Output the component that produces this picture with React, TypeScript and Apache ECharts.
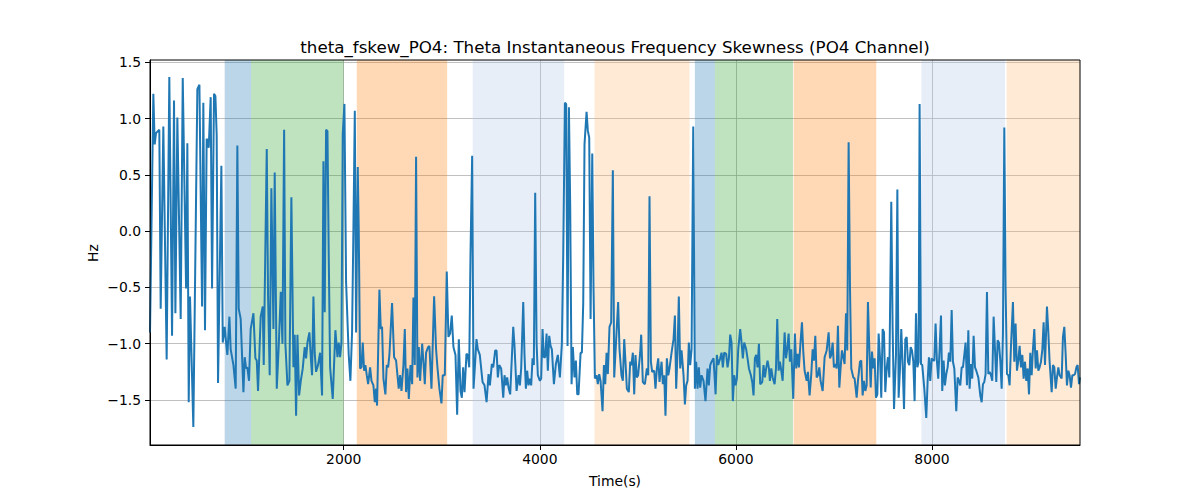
import React, { useEffect, useRef } from 'react';
import * as echarts from 'echarts';

const timeS = [
  24, 58, 72, 85, 119, 133, 160, 194, 221, 249, 269, 283, 303, 337, 358, 392, 405, 419, 432, 466,
  507, 528, 555, 568, 585, 602, 616, 623, 643, 657, 677, 691, 704, 718, 752, 766, 786, 800, 813, 834,
  847, 875, 898, 915, 929, 949, 977, 990, 1004, 1017, 1034, 1051, 1079, 1099, 1113, 1126, 1153, 1174, 1184, 1215,
  1228, 1245, 1262, 1283, 1296, 1317, 1337, 1358, 1375, 1392, 1405, 1426, 1446, 1466, 1487, 1500, 1514, 1528, 1545, 1562,
  1582, 1602, 1616, 1630, 1650, 1664, 1677, 1691, 1704, 1718, 1738, 1759, 1779, 1793, 1806, 1820, 1834, 1847, 1861, 1888,
  1915, 1936, 1949, 1963, 1977, 1990, 2007, 2024, 2051, 2068, 2085, 2099, 2113, 2126, 2143, 2153, 2167, 2181, 2194, 2208,
  2221, 2235, 2249, 2269, 2283, 2303, 2317, 2330, 2340, 2364, 2378, 2391, 2405, 2425, 2439, 2453, 2466, 2493, 2514, 2534,
  2561, 2575, 2589, 2609, 2623, 2636, 2650, 2664, 2681, 2698, 2711, 2725, 2738, 2752, 2766, 2779, 2800, 2813, 2827, 2840,
  2861, 2874, 2895, 2922, 2942, 2956, 2976, 2997, 3010, 3031, 3051, 3068, 3085, 3102, 3119, 3140, 3157, 3174, 3191, 3205,
  3218, 3232, 3252, 3266, 3280, 3293, 3310, 3324, 3341, 3354, 3368, 3388, 3416, 3436, 3457, 3477, 3491, 3511, 3525, 3545,
  3559, 3572, 3586, 3606, 3627, 3640, 3654, 3667, 3681, 3698, 3729, 3742, 3763, 3783, 3797, 3810, 3831, 3844, 3858, 3871,
  3885, 3899, 3912, 3926, 3939, 3953, 3967, 3980, 4001, 4014, 4028, 4041, 4055, 4069, 4082, 4096, 4110, 4123, 4144, 4164,
  4184, 4205, 4225, 4239, 4256, 4269, 4283, 4297, 4310, 4324, 4337, 4354, 4368, 4382, 4395, 4416, 4429, 4443, 4456, 4477,
  4490, 4504, 4518, 4535, 4548, 4562, 4579, 4592, 4606, 4620, 4640, 4654, 4667, 4681, 4694, 4711, 4728, 4745, 4759, 4779,
  4799, 4813, 4833, 4847, 4861, 4874, 4888, 4908, 4922, 4935, 4949, 4963, 4976, 4990, 5003, 5024, 5034, 5051, 5072, 5092,
  5106, 5119, 5133, 5146, 5167, 5180, 5194, 5208, 5221, 5242, 5255, 5269, 5282, 5296, 5310, 5323, 5344, 5364, 5378, 5391,
  5405, 5418, 5432, 5446, 5466, 5480, 5493, 5507, 5520, 5534, 5548, 5565, 5582, 5595, 5609, 5622, 5636, 5650, 5670, 5690,
  5711, 5724, 5738, 5752, 5772, 5793, 5806, 5820, 5840, 5854, 5867, 5881, 5901, 5915, 5929, 5942, 5956, 5969, 5983, 5997,
  6010, 6024, 6044, 6058, 6071, 6085, 6105, 6119, 6133, 6153, 6167, 6180, 6194, 6207, 6221, 6235, 6248, 6269, 6282, 6296,
  6309, 6323, 6337, 6347, 6361, 6375, 6395, 6409, 6422, 6436, 6449, 6463, 6477, 6497, 6511, 6524, 6538, 6551, 6565, 6585,
  6602, 6616, 6630, 6643, 6657, 6674, 6688, 6701, 6722, 6735, 6752, 6769, 6783, 6796, 6810, 6824, 6837, 6851, 6864, 6885,
  6905, 6926, 6946, 6960, 6973, 6987, 7000, 7014, 7028, 7041, 7055, 7068, 7082, 7096, 7109, 7123, 7136, 7150, 7164, 7177,
  7198, 7211, 7232, 7245, 7266, 7279, 7293, 7306, 7320, 7334, 7347, 7361, 7375, 7388, 7402, 7415, 7429, 7443, 7456, 7470,
  7483, 7497, 7511, 7524, 7538, 7551, 7565, 7585, 7599, 7613, 7633, 7647, 7660, 7674, 7687, 7701, 7715, 7728, 7742, 7755,
  7769, 7783, 7796, 7810, 7823, 7837, 7851, 7864, 7874, 7888, 7901, 7922, 7942, 7956, 7969, 7983, 7996, 8010, 8024, 8037,
  8051, 8064, 8078, 8092, 8105, 8119, 8132, 8146, 8160, 8173, 8187, 8201, 8214, 8228, 8248, 8262, 8275, 8289, 8303, 8316,
  8330, 8343, 8357, 8371, 8384, 8398, 8411, 8425, 8439, 8452, 8473, 8493, 8507, 8520, 8534, 8547, 8561, 8575, 8588, 8602,
  8615, 8629, 8643, 8656, 8670, 8683, 8697, 8711, 8724, 8738, 8751, 8765, 8779, 8792, 8806, 8826, 8840, 8853, 8867, 8881,
  8894, 8908, 8922, 8935, 8949, 8962, 8976, 8990, 9003, 9017, 9030, 9044, 9058, 9071, 9085, 9098, 9112, 9126, 9139, 9153,
  9173, 9187, 9200, 9221, 9234, 9248, 9262, 9275, 9289, 9302, 9323, 9336, 9350, 9364, 9377, 9391, 9404, 9418, 9432, 9445,
  9459, 9473, 9486, 9500, 9510
];

const skewHz = [
  -0.90, 1.22, 0.77, 0.87, 0.90, -0.69, 0.93, -1.14, 1.37, -0.93, 1.16, -0.73, 1.01, -0.78, 1.36, -0.51, 0.78, -1.52, -0.58, -1.74,
  1.26, 1.30, -0.67, 1.14, -0.88, 0.82, 0.80, 0.74, 1.19, -0.51, 1.22, 1.20, 0.86, -1.35, 0.58, -0.99, -0.85, -0.99, -1.10, -0.76,
  -1.05, -1.19, -1.40, 0.76, -0.69, -0.78, -1.43, -1.12, -1.22, -1.21, -1.33, -0.87, -0.73, -1.13, -1.15, -1.42, -0.76, -0.67, -1.19, 0.73,
  -0.57, -1.28, 0.38, -0.87, 0.52, -1.40, -1.02, -0.54, -1.00, 0.90, -1.00, -1.37, -1.33, 0.30, -1.21, -0.92, -1.64, -0.92, -1.46, -1.33,
  -1.22, -1.03, -1.13, -0.99, -0.90, -1.12, -1.28, -0.58, -1.08, -1.25, -1.19, -1.08, -1.46, 0.62, -0.72, 0.90, 0.89, -0.21, -1.21, -1.49,
  -0.88, -1.12, -0.99, -1.12, -0.99, 0.86, 1.13, -0.45, -1.10, -1.33, -0.90, 0.03, 1.07, -0.90, 0.57, 0.03, -1.22, -1.21, -0.99, -1.24,
  -1.19, -1.28, -1.36, -1.21, -1.33, -1.37, -1.52, -1.40, -1.55, -0.52, -0.87, -0.85, -1.31, -1.45, -1.19, -1.21, -1.10, -0.64, -1.12, -1.15,
  -1.40, -1.28, -1.42, -1.19, -0.87, -1.43, -1.22, -1.49, -1.19, -1.36, -0.59, -1.19, 0.66, -1.30, -1.03, -1.33, -1.00, -1.16, -1.36, -1.08,
  -1.03, -1.02, -1.40, -0.58, -1.05, -1.21, -1.40, -1.53, -1.28, -1.28, -0.36, -0.94, -0.91, -0.75, -1.03, -1.10, -1.63, -0.96, -1.42, -1.48,
  -1.21, -1.43, -1.09, -1.10, -1.21, -0.21, 0.67, -1.40, -1.16, -0.96, -1.05, -1.10, -1.34, -1.37, -1.52, -1.27, -1.37, -1.18, -1.21, -1.06,
  -1.06, -1.30, -1.19, -1.22, -1.48, -1.28, -1.37, -1.30, -1.39, -1.45, -0.85, -1.02, -1.42, -1.28, -1.37, -1.22, -0.63, -1.10, -1.40, -1.24,
  -1.37, -1.31, -1.37, -1.13, -1.19, 0.34, -0.99, -1.28, -1.33, -1.31, -0.87, -1.12, -1.12, -0.91, -1.24, -0.93, -1.02, -1.05, -1.36, -1.18,
  -1.10, -1.30, -1.00, -0.21, 1.14, 1.13, -1.02, 1.10, 0.23, -1.36, -1.03, -1.30, -1.15, -1.45, -1.45, -1.08, -1.08, -0.64, 0.77, 1.06,
  0.89, 0.83, -0.78, 0.69, -0.51, -1.31, -1.28, -1.36, -1.27, -1.33, -1.60, -1.19, -1.36, -1.08, -1.27, -0.85, -0.81, 0.54, -1.30, -0.96,
  -0.63, -1.05, -1.28, -1.33, -0.96, -1.16, -1.40, -1.43, -1.16, -1.19, -1.08, -1.45, -1.10, -1.30, -1.28, -1.08, -0.92, -1.34, -1.36, -1.22,
  -1.28, 0.31, -1.16, -1.25, -1.24, -1.40, -1.22, -1.13, -1.34, -1.16, -1.36, -1.28, -1.64, -1.13, -1.28, -1.22, -1.08, -0.96, -0.75, -1.40,
  -1.08, -0.58, -1.22, -1.06, -1.28, -1.54, -1.37, -1.33, -0.99, -1.19, -1.05, 0.93, -1.40, -1.16, -1.40, -1.21, -1.39, -1.28, -1.33, -1.51,
  -1.22, -1.37, -1.19, -1.16, -1.13, -1.45, -1.10, -1.19, -1.13, -1.08, -1.21, -1.08, -1.09, -1.21, -1.13, -0.92, -0.99, -1.51, -1.28, -1.37,
  -1.31, -1.05, -0.87, -0.99, -1.13, -0.99, -1.05, -1.13, -1.22, -1.28, -1.34, -1.46, -1.13, -1.10, -1.21, -1.00, -1.36, -1.34, -1.19, -1.30,
  -1.22, -1.15, -1.22, -1.33, -1.22, -1.30, -1.36, -1.22, -0.78, -1.24, -1.16, -1.24, -1.33, -0.90, -1.13, -1.05, -0.91, -1.16, -1.05, -1.49,
  -0.91, -1.22, -1.09, -1.21, -1.02, -0.81, -1.08, -1.24, -1.33, -1.25, -1.46, -1.27, -1.05, -1.15, -0.93, -1.30, -1.28, -1.21, -1.33, -1.42,
  -1.12, -1.06, -0.90, -1.13, -1.10, -0.99, -1.21, -1.18, -1.22, -0.84, -1.39, -1.22, -1.06, -1.12, -1.18, -0.73, -1.06, 0.79, -0.51, -1.22,
  -1.30, -1.31, -1.48, -1.33, -1.16, -1.15, -1.46, -1.33, -1.42, -1.37, -0.63, -1.05, -1.39, -1.07, -1.22, -1.13, -1.48, -1.45, -0.91, -1.12,
  -1.48, -0.87, -0.90, -1.43, -1.22, -1.12, -1.30, 0.26, -0.87, -1.58, -1.10, 0.37, -1.48, -1.22, -0.87, -1.19, -1.58, -0.96, -0.94, -1.16,
  -1.19, -1.03, -1.06, -1.16, -1.51, -0.73, -1.21, -1.16, 1.13, -1.18, -1.19, -1.40, -1.66, -1.33, -1.12, -1.33, -1.13, -1.15, -1.15, -0.82,
  -1.16, -1.31, -1.05, -0.75, -1.42, -1.15, -1.37, -1.27, -1.21, -1.08, -1.16, -0.70, -1.16, -1.22, -1.60, -1.30, -1.33, -1.37, -1.21, -1.21,
  -1.10, -0.99, -1.37, -0.88, -1.40, -1.18, -1.31, -0.93, -1.21, -1.24, -1.30, -1.46, -1.52, -1.36, -1.34, -1.27, -0.54, -1.27, -1.25, -1.28,
  -1.33, -0.76, -1.05, -1.34, -0.97, -0.99, -1.15, -1.40, -0.91, 0.92, -0.51, -1.27, -1.28, -1.37, -1.02, -0.63, -1.16, -0.82, -1.24, -1.15,
  -1.02, -1.21, -1.10, -1.31, -1.16, -1.33, -1.22, -1.45, -1.08, -1.28, -1.05, -0.87, -1.22, -1.06, -1.24, -1.21, -1.16, -1.05, -0.81, -1.19,
  -0.67, -0.90, -1.16, -1.43, -1.19, -1.21, -1.40, -1.30, -1.21, -1.28, -1.31, -0.94, -0.85, -1.10, -1.37, -1.24, -1.28, -1.39, -1.28, -1.28,
  -1.27, -1.21, -1.19, -1.36, -1.30
];

const spanStarts = [786, 1055, 2133, 3316, 4558, 5582, 5786, 6589, 7892, 8762];
const spanEnds = [1055, 2000, 3055, 4249, 5527, 5786, 6582, 7432, 8745, 9510];
const spanKinds = ['blue', 'green', 'orange', 'lightblue', 'lightorange', 'blue', 'green', 'orange', 'lightblue', 'lightorange'];

const xTicks = [2000, 4000, 6000, 8000];
const yTicks = [-1.5, -1, -0.5, 0, 0.5, 1, 1.5];

const titleText = 'theta_fskew_PO4: Theta Instantaneous Frequency Skewness (PO4 Channel)';
const xName = 'Time(s)';
const yName = 'Hz';

const kindColors: Record<string, string> = {
  blue: 'rgba(31,119,180,0.3)',
  green: 'rgba(44,160,44,0.3)',
  orange: 'rgba(255,127,14,0.3)',
  lightblue: 'rgba(174,199,232,0.3)',
  lightorange: 'rgba(255,187,120,0.3)',
};

const FONT = 'DejaVu Sans';

function fmtY(v: number) {
  const s = Math.abs(v).toFixed(1);
  return v < 0 ? '\u2212' + s : s;
}

export default function App() {
  const ref = useRef<HTMLDivElement>(null);
  useEffect(() => {
    document.body.style.margin = '0';
    if (!ref.current) return;
    const chart = echarts.init(ref.current, null, { renderer: 'svg' });
    const lineData = timeS.map((t, i) => [t, skewHz[i]]);
    const areas = spanStarts.map((s, i) => [
      { xAxis: s, itemStyle: { color: kindColors[spanKinds[i]] } },
      { xAxis: spanEnds[i] },
    ]);
    chart.setOption({
      animation: false,
      backgroundColor: '#ffffff',
      grid: {
        left: 150,
        right: 120,
        top: 60,
        bottom: 55,
        show: true,
        borderColor: '#000',
        borderWidth: 1,
        backgroundColor: 'transparent',
        z: 3,
      },
      graphic: [
        {
          type: 'text',
          x: 615,
          y: 47,
          style: { text: titleText, fontSize: 16.7, fontFamily: FONT, fill: '#000', align: 'center', verticalAlign: 'middle' },
        },
        {
          type: 'text',
          x: 615,
          y: 481,
          style: { text: xName, fontSize: 13.9, fontFamily: FONT, fill: '#000', align: 'center', verticalAlign: 'middle' },
        },
        {
          type: 'text',
          x: 93,
          y: 253,
          rotation: Math.PI / 2,
          style: { text: yName, fontSize: 13.9, fontFamily: FONT, fill: '#000', align: 'center', verticalAlign: 'middle' },
        },
      ],
      xAxis: {
        type: 'value',
        min: 24,
        max: 9510,
        axisLine: { show: true, onZero: false, lineStyle: { color: '#000', width: 1 } },
        axisTick: { show: true, customValues: xTicks, length: 5, lineStyle: { color: '#000', width: 1 } },
        axisLabel: { customValues: xTicks, fontSize: 13.9, fontFamily: FONT, color: '#000', margin: 7, formatter: (v: number) => String(v) },
        splitLine: { show: true, lineStyle: { color: '#b0b0b0', width: 0.8 } },
      },
      yAxis: {
        type: 'value',
        min: -1.9,
        max: 1.52,
        axisLine: { show: true, onZero: false, lineStyle: { color: '#000', width: 1 } },
        axisTick: { show: true, customValues: yTicks, length: 5, lineStyle: { color: '#000', width: 1 } },
        axisLabel: { customValues: yTicks, fontSize: 13.9, fontFamily: FONT, color: '#000', margin: 9, formatter: (v: number) => fmtY(v) },
        splitLine: { show: true, lineStyle: { color: '#b0b0b0', width: 0.8 } },
      },
      series: [
        {
          type: 'line',
          data: lineData,
          showSymbol: false,
          symbol: 'none',
          lineStyle: { color: '#1f77b4', width: 2 },
          z: 2,
          markArea: { silent: true, data: areas },
        },
      ],
    });
    return () => chart.dispose();
  }, []);
  return <div ref={ref} style={{ width: 1200, height: 500 }} />;
}
